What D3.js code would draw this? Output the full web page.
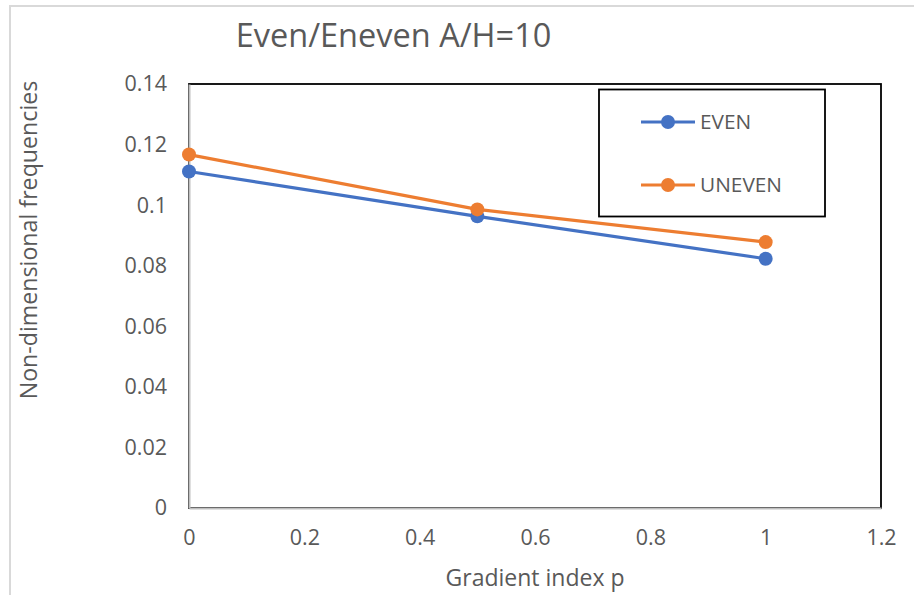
<!DOCTYPE html>
<html>
<head>
<meta charset="utf-8">
<script src="https://cdn.jsdelivr.net/npm/d3@7"></script>
<style>
  html, body { margin: 0; padding: 0; background: #fff; }
  svg { display: block; font-family: "Open Sans", Lato, sans-serif; }
</style>
</head>
<body>
<svg id="chart" width="914" height="595"></svg>
<script>
// Gradient index values and the two frequency series
const gradientIndex = [0, 0.5, 1];
const evenValues = [0.1111, 0.0963, 0.0823];
const unevenValues = [0.1167, 0.0986, 0.0878];
const seriesNames = ["EVEN", "UNEVEN"];
const seriesColors = ["#4472C4", "#ED7D31"];
const xTicks = [0, 0.2, 0.4, 0.6, 0.8, 1, 1.2];
const yTicks = [0, 0.02, 0.04, 0.06, 0.08, 0.1, 0.12, 0.14];

const svg = d3.select("#chart");
const W = 914, H = 595;
const plot = { left: 189, top: 84, right: 881, bottom: 508 };
const textColor = "#595959";

// outer chart frame (top and left edges visible)
svg.append("path").attr("d", `M10,${H} V6 H${W}`)
  .attr("fill", "none").attr("stroke", "#d9d9d9").attr("stroke-width", 2);

const x = d3.scaleLinear().domain([0, 1.2]).range([plot.left, plot.right]);
const y = d3.scaleLinear().domain([0, 0.14]).range([plot.bottom, plot.top]);

// plot-area border
svg.append("rect").attr("x", plot.left).attr("y", plot.top)
  .attr("width", plot.right - plot.left).attr("height", plot.bottom - plot.top)
  .attr("fill", "none").attr("stroke", "#000").attr("stroke-width", 1.8);

// axes
const xAxis = svg.append("g").attr("transform", `translate(0,${plot.bottom})`)
  .call(d3.axisBottom(x).tickValues(xTicks).tickSize(0).tickPadding(22)
    .tickFormat(d => String(+d.toFixed(1))));
const yAxis = svg.append("g").attr("transform", `translate(${plot.left},0)`)
  .call(d3.axisLeft(y).tickValues(yTicks).tickSize(0).tickPadding(22)
    .tickFormat(d => String(+d.toFixed(2))));
[xAxis, yAxis].forEach(g => {
  g.select(".domain").attr("stroke", "#bfbfbf").attr("stroke-width", 2);
  g.selectAll("text").attr("fill", textColor).attr("font-size", 21.5)
    .attr("font-family", "'Open Sans', sans-serif");
});

// series lines and markers
const series = [evenValues, unevenValues];
const line = d3.line().x((d, i) => x(gradientIndex[i])).y(d => y(d));
series.forEach((vals, s) => {
  svg.append("path").datum(vals).attr("d", line).attr("fill", "none")
    .attr("stroke", seriesColors[s]).attr("stroke-width", 3.2).attr("stroke-linejoin", "round");
  svg.selectAll(null).data(vals).enter().append("circle")
    .attr("cx", (d, i) => x(gradientIndex[i])).attr("cy", d => y(d)).attr("r", 7)
    .attr("fill", seriesColors[s]);
});

// title and axis titles
svg.append("text").attr("x", 393.5).attr("y", 47).attr("text-anchor", "middle")
  .attr("font-size", 32.5).attr("fill", textColor).text("Even/Eneven A/H=10");
svg.append("text").attr("x", 535).attr("y", 586).attr("text-anchor", "middle")
  .attr("font-size", 23).attr("fill", textColor).text("Gradient index p");
svg.append("text").attr("transform", "translate(37,240) rotate(-90)").attr("text-anchor", "middle")
  .attr("font-size", 23.2).attr("fill", textColor).text("Non-dimensional frequencies");

// legend
const lg = svg.append("g");
lg.append("rect").attr("x", 599).attr("y", 89.5).attr("width", 226).attr("height", 127)
  .attr("fill", "#fff").attr("stroke", "#000").attr("stroke-width", 1.8);
const legendY = [122, 185];
seriesNames.forEach((name, s) => {
  lg.append("line").attr("x1", 641).attr("x2", 695).attr("y1", legendY[s]).attr("y2", legendY[s])
    .attr("stroke", seriesColors[s]).attr("stroke-width", 3.2);
  lg.append("circle").attr("cx", 668).attr("cy", legendY[s]).attr("r", 7).attr("fill", seriesColors[s]);
  lg.append("text").attr("x", 700).attr("y", legendY[s]).attr("dy", "0.35em")
    .attr("font-size", 20.8).attr("fill", textColor).text(name);
});
</script>
</body>
</html>
